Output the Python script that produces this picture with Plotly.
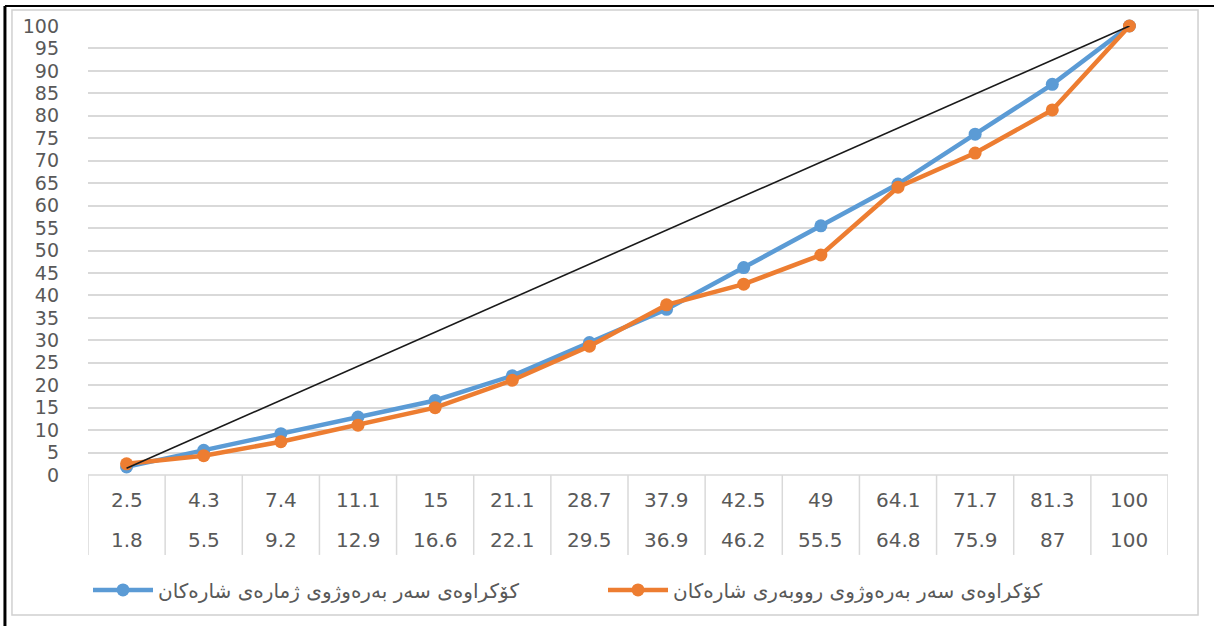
import plotly.graph_objects as go

# Data
area_cum = [2.5, 4.3, 7.4, 11.1, 15, 21.1, 28.7, 37.9, 42.5, 49, 64.1, 71.7, 81.3, 100]   # orange, top row
count_cum = [1.8, 5.5, 9.2, 12.9, 16.6, 22.1, 29.5, 36.9, 46.2, 55.5, 64.8, 75.9, 87, 100]  # blue, bottom row
equality_x = [0, 13]
equality_y = [1.5, 100]
y_ticks = list(range(0, 101, 5))
name_count = "كۆكراوەی سەر بەرەوژوی ژمارەی شارەكان"
name_area = "كۆكراوەی سەر بەرەوژوی رووبەری شارەكان"

idx = list(range(len(area_cum)))
BLUE = "#5B9BD5"
ORANGE = "#ED7D31"
GRID = "#D9D9D9"
TXT = "#595959"
FONT = "DejaVu Sans"

fig = go.Figure()
fig.add_trace(go.Scatter(x=idx, y=count_cum, mode="lines+markers", name=name_count,
                         line=dict(color=BLUE, width=4.5), marker=dict(color=BLUE, size=13),
                         cliponaxis=False))
fig.add_trace(go.Scatter(x=idx, y=area_cum, mode="lines+markers", name=name_area,
                         line=dict(color=ORANGE, width=4.5), marker=dict(color=ORANGE, size=13),
                         cliponaxis=False))
fig.add_trace(go.Scatter(x=equality_x, y=equality_y, mode="lines", showlegend=False,
                         line=dict(color="#1a1a1a", width=1.6), cliponaxis=False, hoverinfo="skip"))

shapes = []
# category table: top line and dividers
shapes.append(dict(type="line", xref="x", yref="paper", x0=-0.5, x1=13.5, y0=0, y1=0,
                   line=dict(color=GRID, width=1.5)))
for b in range(len(idx) + 1):
    shapes.append(dict(type="line", xref="x", yref="paper", x0=b - 0.5, x1=b - 0.5, y0=0, y1=-0.178,
                       line=dict(color=GRID, width=1.5)))
# chart area border
shapes.append(dict(type="rect", xref="paper", yref="paper", x0=-0.0704, x1=1.0278, y0=-0.3118, y1=1.0356,
                   line=dict(color="#D0D0D0", width=1.5), layer="below"))
# spreadsheet black edges
shapes.append(dict(type="line", xref="paper", yref="paper", x0=-0.0769, x1=-0.0769, y0=-0.34, y1=1.0445,
                   line=dict(color="black", width=3)))
shapes.append(dict(type="line", xref="paper", yref="paper", x0=-0.0769, x1=1.05, y0=1.0445, y1=1.0445,
                   line=dict(color="black", width=2)))

annotations = []
for i in idx:
    annotations.append(dict(x=i, y=-0.0557, xref="x", yref="paper", text=str(area_cum[i]), showarrow=False,
                            font=dict(family=FONT, size=20, color=TXT), xanchor="center", yanchor="middle"))
    annotations.append(dict(x=i, y=-0.1448, xref="x", yref="paper", text=str(count_cum[i]), showarrow=False,
                            font=dict(family=FONT, size=20, color=TXT), xanchor="center", yanchor="middle"))

fig.update_layout(
    width=1214, height=626,
    margin=dict(l=88, r=46, t=26, b=151),
    paper_bgcolor="white", plot_bgcolor="white",
    showlegend=True,
    legend=dict(orientation="h", x=0.0, y=-0.256, xanchor="left", yanchor="middle",
                bgcolor="rgba(0,0,0,0)",
                font=dict(family=FONT, size=20, color=TXT), entrywidth=440, entrywidthmode="pixels",
                itemwidth=60),
    xaxis=dict(range=[-0.5, 13.5], showgrid=False, zeroline=False, showticklabels=False,
               showline=False, fixedrange=True, automargin=False),
    yaxis=dict(range=[0, 100], tickvals=y_ticks, showgrid=True, gridcolor=GRID, gridwidth=1.5,
               zeroline=False, showline=False, ticks="", ticklabelstandoff=28, automargin=False,
               tickfont=dict(family=FONT, size=19, color=TXT)),
    shapes=shapes, annotations=annotations,
)

fig.write_html("out.html", config={"displayModeBar": False},
               post_script=["document.body.style.margin='0';document.body.style.overflow='hidden';"])
